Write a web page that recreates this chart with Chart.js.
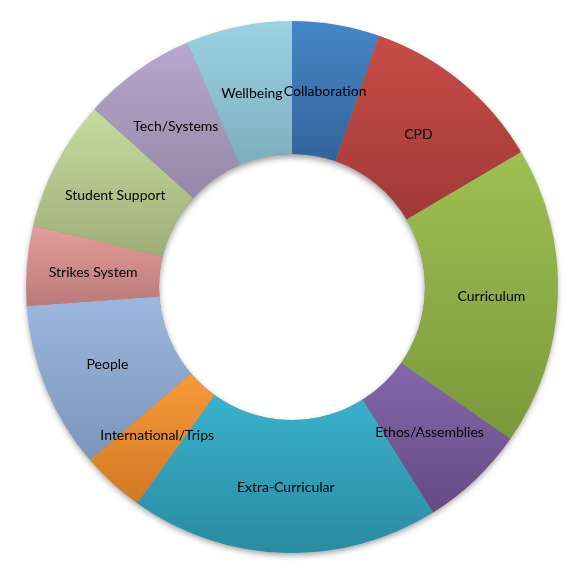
<!DOCTYPE html>
<html>
<head>
<meta charset="utf-8">
<script src="https://cdn.jsdelivr.net/npm/chart.js@4/dist/chart.umd.min.js"></script>
<style>
  html, body { margin: 0; padding: 0; background: #ffffff; }
  #wrap { width: 588px; height: 573px; }
</style>
</head>
<body>
<div id="wrap"><canvas id="c" width="588" height="573"></canvas></div>
<script>
// Categories (clockwise from 12 o'clock)
const categories = [
  "Collaboration", "CPD", "Curriculum", "Ethos/Assemblies", "Extra-Curricular",
  "International/Trips", "People", "Strikes System", "Student Support",
  "Tech/Systems", "Wellbeing"
];
// Share of the ring for each category (in degrees of 360)
const shares = [19.1, 40.4, 65.3, 23.2, 67.6, 13.8, 36.5, 17.4, 28.7, 24.8, 23.2];

// Style: top and bottom colour of each slice's vertical gradient
const topColors = ["#4686C7", "#C74D48", "#9FC053", "#8567AA", "#39B2CC", "#F79B39",
                   "#9DB7DE", "#E49D9B", "#C7DB9D", "#B9A7CF", "#9BD3E3"];
const bottomColors = ["#33649B", "#A13936", "#7B983B", "#644A85", "#298BA1", "#D17924",
                      "#7D95B9", "#BA7A78", "#9EAE79", "#9487A7", "#7DAEBE"];

function sliceGradient(context) {
  const chart = context.chart;
  const area = chart.chartArea;
  if (!area) return topColors[context.dataIndex];
  const i = context.dataIndex;
  const cx = (area.left + area.right) / 2;
  const cy = (area.top + area.bottom) / 2;
  const outer = Math.min(area.right - area.left, area.bottom - area.top) / 2;
  const inner = outer * 0.5;
  const total = shares.reduce((a, b) => a + b, 0);
  let before = 0;
  for (let k = 0; k < i; k++) before += shares[k];
  const a0 = -Math.PI / 2 + before / total * Math.PI * 2;
  const a1 = a0 + shares[i] / total * Math.PI * 2;
  let minY = Infinity, maxY = -Infinity;
  const steps = 40;
  for (let s = 0; s <= steps; s++) {
    const a = a0 + (a1 - a0) * s / steps;
    for (const r of [inner, outer]) {
      const y = cy + r * Math.sin(a);
      if (y < minY) minY = y;
      if (y > maxY) maxY = y;
    }
  }
  const g = chart.ctx.createLinearGradient(0, minY, 0, maxY);
  g.addColorStop(0, topColors[i]);
  g.addColorStop(1, bottomColors[i]);
  return g;
}

const shadowPlugin = {
  id: 'ringShadow',
  beforeDatasetsDraw(chart) {
    const meta = chart.getDatasetMeta(0);
    const el = meta.data[0];
    if (!el) return;
    const ctx = chart.ctx;
    ctx.save();
    ctx.shadowColor = 'rgba(0,0,0,0.4)';
    ctx.shadowBlur = 6;
    ctx.shadowOffsetY = 3;
    ctx.beginPath();
    ctx.arc(el.x, el.y, el.outerRadius - 1, 0, Math.PI * 2);
    ctx.arc(el.x, el.y, el.innerRadius, 0, Math.PI * 2, true);
    ctx.fillStyle = '#888888';
    ctx.fill();
    ctx.restore();
  }
};

const labelPlugin = {
  id: 'sliceLabels',
  afterDatasetsDraw(chart) {
    const ctx = chart.ctx;
    const meta = chart.getDatasetMeta(0);
    ctx.save();
    ctx.font = '14px Lato, "Open Sans", sans-serif';
    ctx.fillStyle = '#000000';
    ctx.textAlign = 'center';
    ctx.textBaseline = 'middle';
    meta.data.forEach((el, i) => {
      const p = el.getProps(['x', 'y', 'startAngle', 'endAngle', 'innerRadius', 'outerRadius'], true);
      const mid = (p.startAngle + p.endAngle) / 2;
      const r = (p.innerRadius + p.outerRadius) / 2;
      ctx.fillText(chart.data.labels[i], p.x + r * Math.cos(mid), p.y + r * Math.sin(mid) + 1.5);
    });
    ctx.restore();
  }
};

new Chart(document.getElementById('c'), {
  type: 'doughnut',
  data: {
    labels: categories,
    datasets: [{
      data: shares,
      backgroundColor: sliceGradient,
      borderWidth: 0,
      hoverOffset: 0
    }]
  },
  options: {
    responsive: false,
    animation: false,
    devicePixelRatio: 1,
    cutout: '50%',
    layout: { padding: { left: 26, right: 30, top: 21, bottom: 20 } },
    plugins: {
      legend: { display: false },
      tooltip: { enabled: false }
    }
  },
  plugins: [shadowPlugin, labelPlugin]
});
</script>
</body>
</html>
